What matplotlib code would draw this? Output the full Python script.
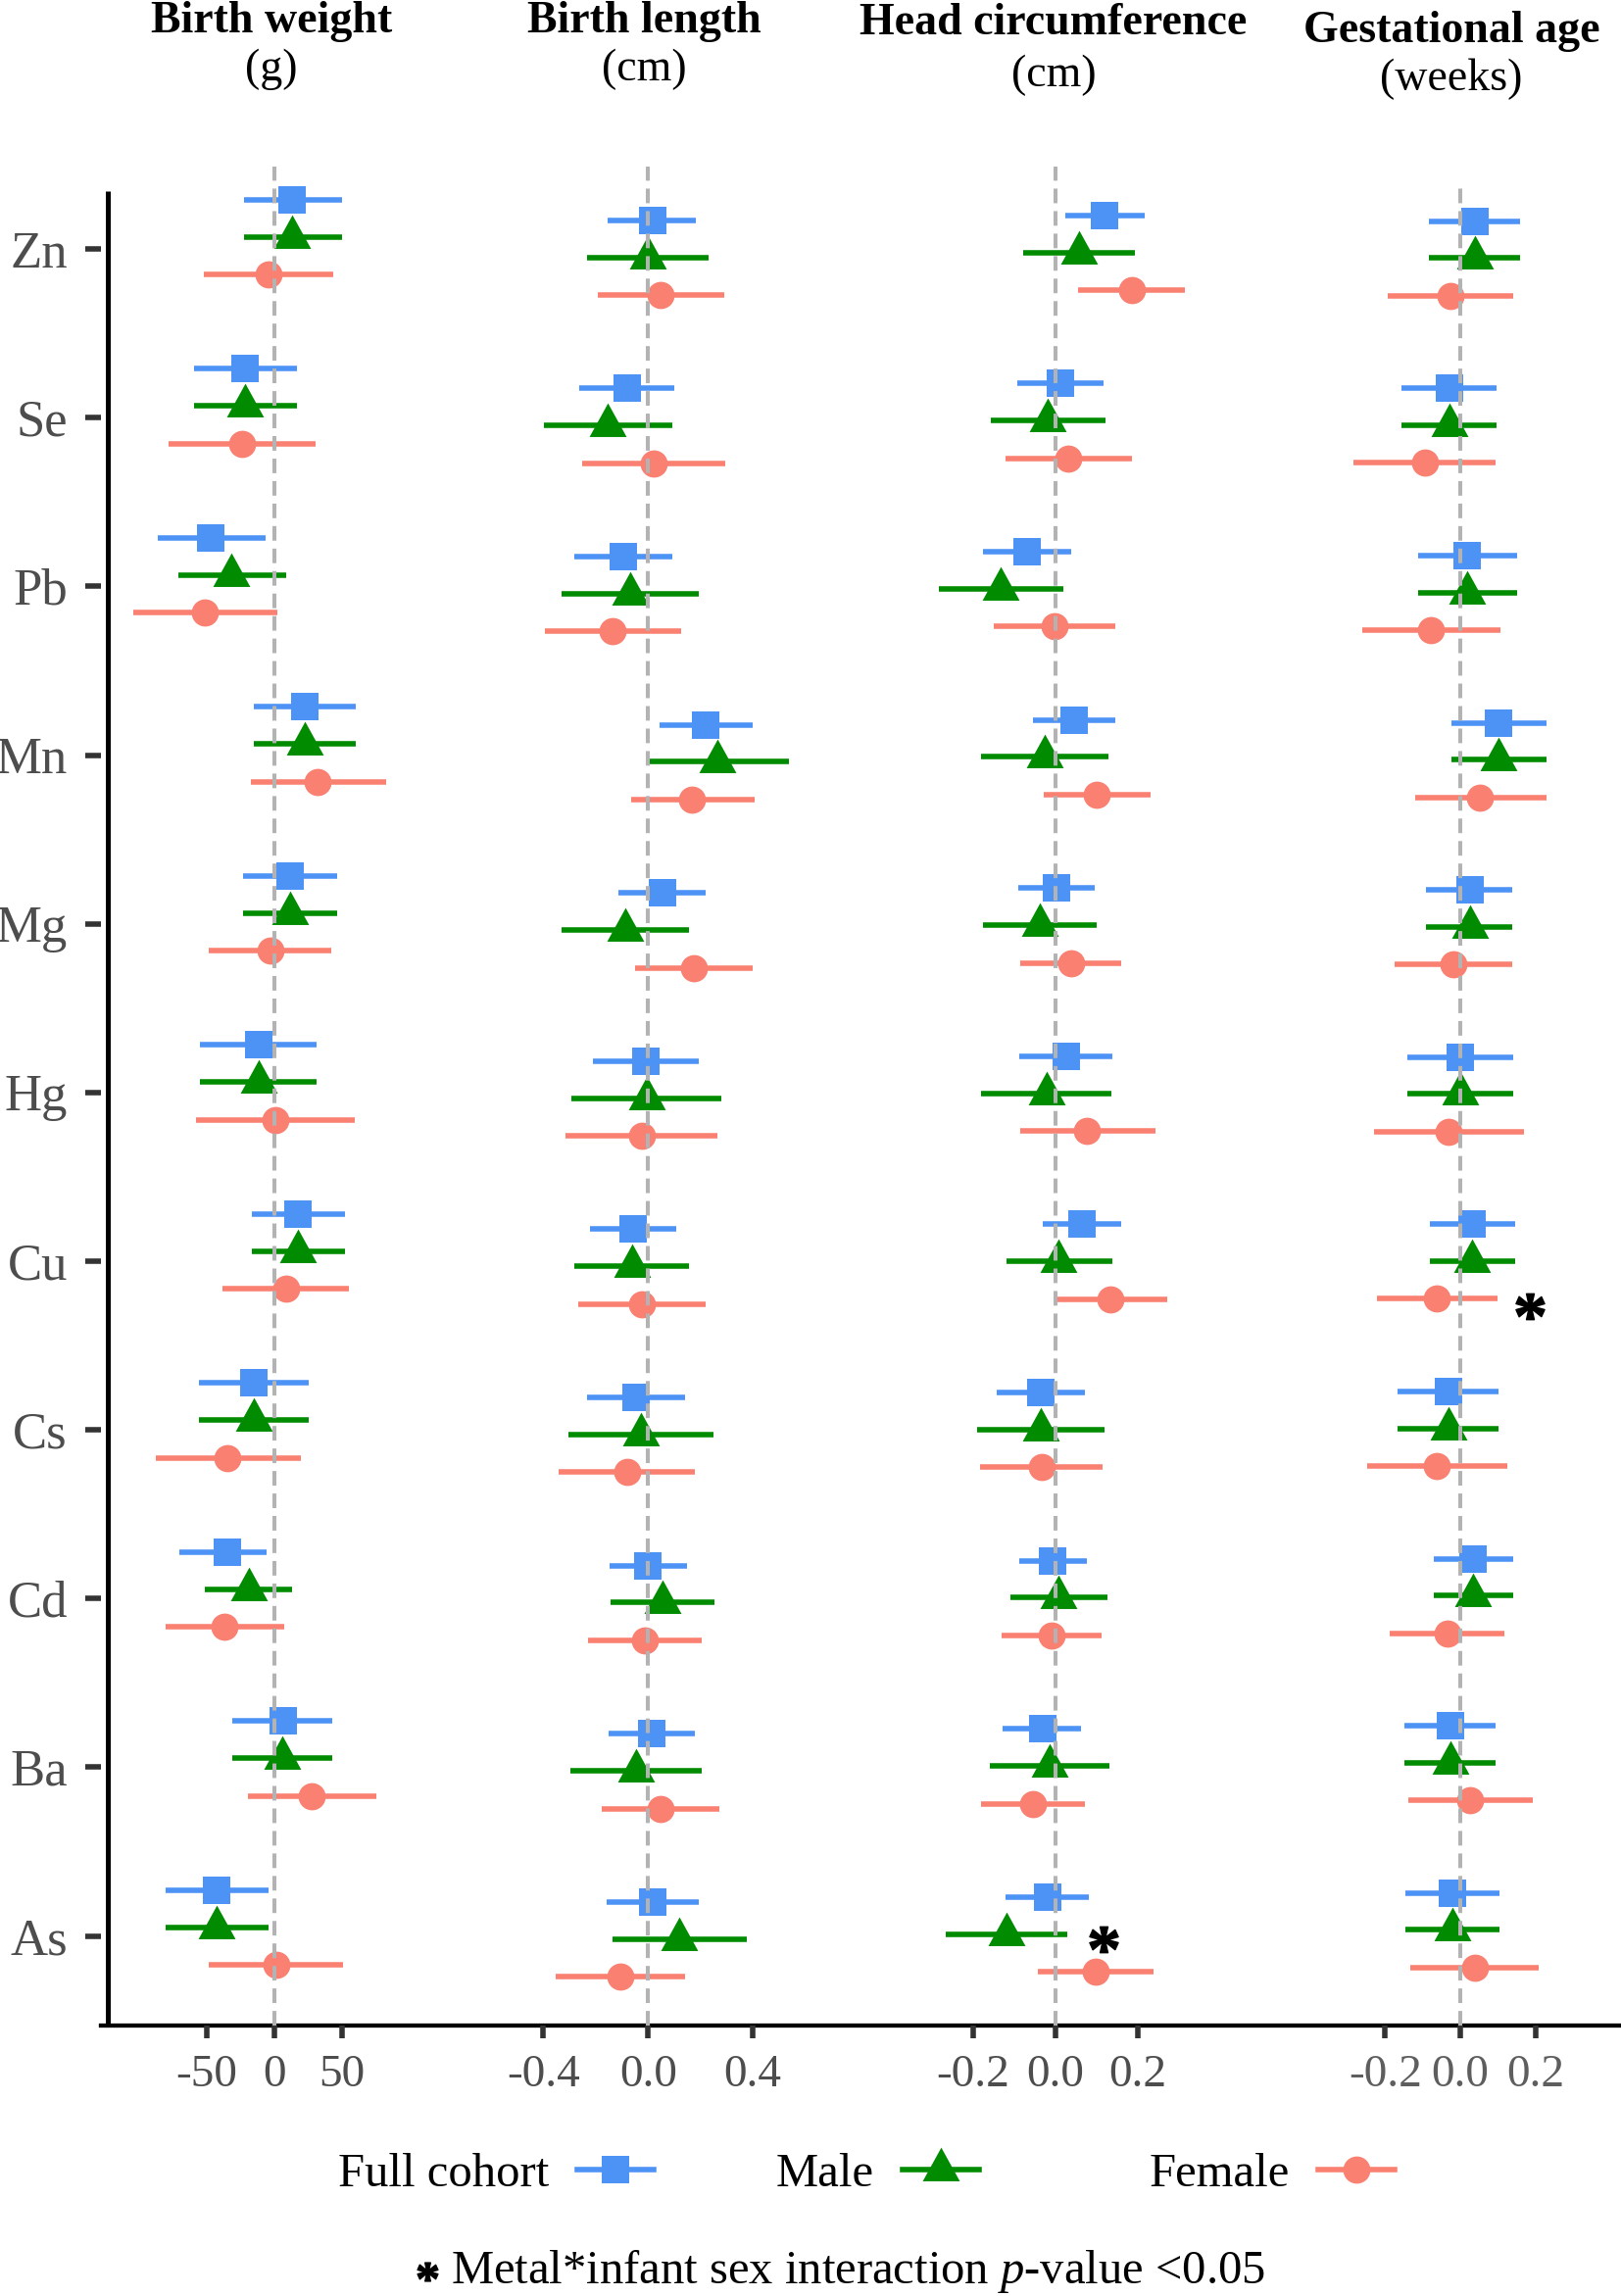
import numpy as np
import matplotlib
matplotlib.use('Agg')
import matplotlib.pyplot as plt
from matplotlib.lines import Line2D

plt.rcParams['font.family'] = 'Liberation Serif'
plt.rcParams['mathtext.fontset'] = 'custom'
plt.rcParams['mathtext.rm'] = 'Liberation Serif'
plt.rcParams['mathtext.it'] = 'Liberation Serif:italic'
plt.rcParams['mathtext.bf'] = 'Liberation Serif:bold'
plt.rcParams['axes.unicode_minus'] = False

# datos: (estimado, IC inferior, IC superior)
metals = ['Zn', 'Se', 'Pb', 'Mn', 'Mg', 'Hg', 'Cu', 'Cs', 'Cd', 'Ba', 'As']
groups = ['Full cohort', 'Male', 'Female']

bw_full = [(13.3, -22.7, 50.0), (-21.6, -59.7, 16.5), (-46.8, -86.3, -6.5), (22.3, -15.5, 60.1),
           (11.2, -23.4, 46.4), (-11.9, -54.7, 30.9), (17.6, -16.9, 52.2), (-15.1, -56.1, 25.2),
           (-34.5, -70.5, -5.8), (6.1, -30.9, 42.4), (-42.4, -80.6, -4.3)]
bw_male = [(13.3, -22.7, 50.0), (-21.6, -59.7, 16.5), (-31.7, -71.2, 8.6), (22.3, -15.5, 60.1),
           (11.2, -23.4, 46.4), (-11.9, -54.7, 30.9), (17.6, -16.9, 52.2), (-15.1, -56.1, 25.2),
           (-18.7, -51.1, 12.9), (5.8, -30.9, 42.4), (-42.4, -80.6, -4.3)]
bw_female = [(-4.7, -51.8, 43.5), (-24.1, -78.4, 30.2), (-51.1, -104.0, 1.8), (32.0, -17.6, 82.4),
             (-3.2, -48.2, 42.1), (0.7, -57.6, 59.4), (8.3, -38.1, 55.0), (-34.5, -87.8, 19.4),
             (-37.1, -80.6, 7.2), (27.7, -19.8, 75.2), (1.1, -48.2, 50.7)]

bl_full = [(0.019, -0.154, 0.184), (-0.080, -0.262, 0.102), (-0.095, -0.281, 0.091), (0.221, 0.045, 0.398),
           (0.054, -0.113, 0.221), (-0.009, -0.210, 0.192), (-0.058, -0.221, 0.106), (-0.045, -0.232, 0.143),
           (0.000, -0.147, 0.147), (0.013, -0.151, 0.177), (0.017, -0.158, 0.195)]
bl_male = [(0.000, -0.232, 0.232), (-0.153, -0.396, 0.091), (-0.069, -0.329, 0.192), (0.266, -0.006, 0.539),
           (-0.086, -0.329, 0.158), (-0.006, -0.292, 0.279), (-0.061, -0.281, 0.158), (-0.026, -0.303, 0.251),
           (0.056, -0.143, 0.255), (-0.045, -0.296, 0.206), (0.119, -0.136, 0.376)]
bl_female = [(0.046, -0.192, 0.290), (0.020, -0.251, 0.294), (-0.134, -0.392, 0.128), (0.169, -0.063, 0.405),
             (0.175, -0.048, 0.398), (-0.024, -0.314, 0.266), (-0.022, -0.266, 0.221), (-0.080, -0.340, 0.180),
             (-0.011, -0.229, 0.206), (0.046, -0.177, 0.272), (-0.104, -0.352, 0.143)]

hc_full = [(0.118, 0.024, 0.217), (0.012, -0.092, 0.117), (-0.069, -0.176, 0.038), (0.045, -0.054, 0.146),
           (0.002, -0.090, 0.095), (0.026, -0.088, 0.138), (0.064, -0.031, 0.160), (-0.036, -0.143, 0.071),
           (-0.006, -0.088, 0.077), (-0.032, -0.128, 0.063), (-0.019, -0.121, 0.082)]
hc_male = [(0.057, -0.078, 0.193), (-0.018, -0.157, 0.122), (-0.134, -0.283, 0.019), (-0.027, -0.181, 0.129),
           (-0.038, -0.176, 0.099), (-0.022, -0.181, 0.136), (0.008, -0.118, 0.138), (-0.036, -0.191, 0.120),
           (0.008, -0.109, 0.127), (-0.014, -0.160, 0.131), (-0.120, -0.266, 0.028)]
hc_female = [(0.185, 0.054, 0.314), (0.032, -0.121, 0.186), (-0.002, -0.150, 0.146), (0.101, -0.028, 0.231),
             (0.037, -0.085, 0.160), (0.077, -0.085, 0.243), (0.134, -0.002, 0.271), (-0.034, -0.183, 0.115),
             (-0.009, -0.130, 0.111), (-0.054, -0.181, 0.072), (0.097, -0.043, 0.238)]

ga_full = [(0.038, -0.083, 0.158), (-0.030, -0.156, 0.096), (0.019, -0.112, 0.151), (0.103, -0.023, 0.229),
           (0.025, -0.091, 0.138), (0.000, -0.140, 0.140), (0.032, -0.081, 0.145), (-0.032, -0.166, 0.101),
           (0.035, -0.070, 0.140), (-0.027, -0.148, 0.094), (-0.022, -0.145, 0.104)]
ga_male = [(0.038, -0.083, 0.158), (-0.030, -0.156, 0.096), (0.019, -0.112, 0.151), (0.103, -0.023, 0.229),
           (0.025, -0.091, 0.138), (0.000, -0.140, 0.140), (0.032, -0.081, 0.145), (-0.032, -0.166, 0.101),
           (0.035, -0.070, 0.140), (-0.027, -0.148, 0.094), (-0.022, -0.145, 0.104)]
ga_female = [(-0.026, -0.192, 0.142), (-0.095, -0.284, 0.094), (-0.078, -0.261, 0.106), (0.053, -0.119, 0.229),
             (-0.019, -0.174, 0.138), (-0.031, -0.230, 0.169), (-0.062, -0.222, 0.099), (-0.062, -0.248, 0.125),
             (-0.035, -0.187, 0.117), (0.027, -0.138, 0.192), (0.039, -0.132, 0.210)]

titles = ['Birth weight', 'Birth length', 'Head circumference', 'Gestational age']
units = ['(g)', '(cm)', '(cm)', '(weeks)']
xticks = [[-50, 0, 50], [-0.4, 0.0, 0.4], [-0.2, 0.0, 0.2], [-0.2, 0.0, 0.2]]
xticklabels = [['-50', '0', '50'], ['-0.4', '0.0', '0.4'], ['-0.2', '0.0', '0.2'], ['-0.2', '0.0', '0.2']]
panel_data = [(bw_full, bw_male, bw_female), (bl_full, bl_male, bl_female),
              (hc_full, hc_male, hc_female), (ga_full, ga_male, ga_female)]

# interaccion significativa: (panel, metal, x)
star_panel = [2, 3]
star_metal = ['As', 'Cu']
star_x = [0.117, 0.185]
star_dy = [0.03, 0.27]

# estilo
colors = ['#4D93F5', '#008B00', '#FA8072']
tri = [(0, 1), (-0.826, -0.5), (0.826, -0.5)]
markers = ['s', tri, 'o']
msizes = [20.5, 33, 20]
offsets = [-0.22, 0.0, 0.225]

# maquetacion en pixeles
W, H = 1654, 2343
bottom_px = 2066.5
ax_x = [(110, 460), (460, 870), (870, 1290), (1290, 1654)]
ax_top = [170, 170, 170, 187]
zero_px = [280.1, 661.2, 1077.0, 1490.0]
unit_px = [1.383, 267.5, 420.5, 383.0]
zn_px = [241.5, 262.6, 257.5, 263.4]
row_px = [172.5, 171.6, 171.6, 170.6]
title_x = [277, 657, 1075, 1481]
title_base1 = [33, 33, 35, 43]
title_base2 = [82, 82, 88, 92]
legend_x = [345, 792, 1173]


def box(x0, x1, top, bottom):
    return [x0 / W, 1 - bottom / H, (x1 - x0) / W, (bottom - top) / H]


fig = plt.figure(figsize=(W / 100, H / 100), dpi=100)

# eje marco con etiquetas de metales
fr = fig.add_axes(box(103, W, 195, bottom_px))
fr.patch.set_visible(False)
fr.set_ylim((bottom_px - 254.2) / 172.14, (195 - 254.2) / 172.14)
fr.set_yticks(range(len(metals)))
fr.set_yticklabels(metals)
fr.set_xticks([])
for s in ['left', 'top', 'right']:
    fr.spines[s].set_visible(False)
fr.spines['bottom'].set_linewidth(3.1)
fr.spines['bottom'].set_color('black')
fr.tick_params(axis='y', length=11.5, width=4, color='#333333', labelsize=38,
               labelcolor='#4D4D4D', pad=13)
fig.add_artist(Line2D([110 / W, 110 / W], [1 - 195 / H, 1 - bottom_px / H], color='black',
                      lw=3.6, solid_capstyle='butt', transform=fig.transFigure))

for i in range(4):
    x0, x1 = ax_x[i]
    ax = fig.add_axes(box(x0, x1, ax_top[i], bottom_px))
    ax.patch.set_visible(False)
    ax.set_xlim((x0 - zero_px[i]) / unit_px[i], (x1 - zero_px[i]) / unit_px[i])
    ax.set_ylim((bottom_px - zn_px[i]) / row_px[i], (ax_top[i] - zn_px[i]) / row_px[i])
    for s in ax.spines.values():
        s.set_visible(False)
    for g in range(3):
        est, lo, hi = np.array(panel_data[i][g]).T
        y = np.arange(len(metals)) + offsets[g]
        ax.hlines(y, lo, hi, color=colors[g], lw=4, capstyle='butt', zorder=2)
        ax.plot(est, y, ls='', marker=markers[g], ms=msizes[g], color=colors[g], mew=0, zorder=3)
    ax.axvline(0, color='#B3B3B3', lw=2.9, ls=(0, (3.7, 2.0)), zorder=4)
    ax.set_xticks(xticks[i])
    ax.set_xticklabels(xticklabels[i])
    ax.tick_params(axis='x', length=9.5, width=4, color='#333333', labelsize=34,
                   labelcolor='#4D4D4D' if i < 3 else '#5E5E5E', pad=12)
    ax.tick_params(axis='y', left=False, labelleft=False)
    for p, m, sx, dy in zip(star_panel, star_metal, star_x, star_dy):
        if p == i:
            ax.plot(sx, metals.index(m) + dy, ls='', marker=r'$\mathbf{*}$', ms=21, color='black', zorder=5)
    fig.text(title_x[i] / W, 1 - title_base1[i] / H, titles[i], ha='center', va='baseline',
             fontsize=33, fontweight='bold')
    fig.text(title_x[i] / W, 1 - title_base2[i] / H, units[i], ha='center', va='baseline', fontsize=33)

# leyenda: etiqueta y luego la clave
for g in range(3):
    h = Line2D([0], [0], color=colors[g], lw=4, marker=markers[g], ms=msizes[g], mew=0)
    fig.legend([h], [groups[g]], loc='center left', bbox_to_anchor=(legend_x[g] / W, 1 - 2219 / H),
               frameon=False, markerfirst=False, handlelength=1.6, handletextpad=0.6,
               fontsize=35, numpoints=1, borderpad=0, borderaxespad=0)

fig.add_artist(Line2D([436 / W], [1 - 2318 / H], ls='', marker=r'$\mathbf{*}$', ms=15,
                      color='black', transform=fig.transFigure))
fig.text(460 / W, 1 - 2330 / H, r'Metal*infant sex interaction $\mathit{p}$-value <0.05',
         ha='left', va='baseline', fontsize=35)

fig.savefig('out.png', dpi=100)
